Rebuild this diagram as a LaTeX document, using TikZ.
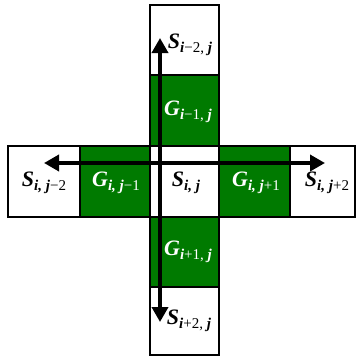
\documentclass[tikz,border=0pt]{standalone}
\usepackage{fontspec}
\setmainfont{Liberation Serif}
\usetikzlibrary{arrows.meta}
\definecolor{ggreen}{RGB}{0,122,0}
\newcommand\lbl[3]{{\bfseries\itshape #1}\raisebox{-0.45ex}{\fontsize{15}{15}\selectfont\bfseries\itshape #2\textup{\mdseries #3}}}
\begin{document}
\begin{tikzpicture}[x=1pt,y=-1pt,
  cell/.style={draw=black,line width=1.6pt,minimum width=70pt,minimum height=71pt,inner sep=0pt,anchor=center},
  gcell/.style={cell,fill=ggreen},
  frame/.style={draw=black,line width=2.6pt},
  stxt/.style={font=\fontsize{22}{22}\selectfont,text=black,inner sep=0pt},
  gtxt/.style={font=\fontsize{22}{22}\selectfont,text=white,inner sep=0pt},
  arr/.style={line width=3.6pt,{Triangle[length=15pt,width=16pt]}-{Triangle[length=15pt,width=16pt]}}]
\useasboundingbox (0,0) rectangle (358,356);
% row cells
\node[cell,minimum width=72pt] (sl) at (44,181.5) {};
\node[gcell,minimum width=70pt] (gl) at (115,181.5) {};
\node[cell,minimum width=69pt] (sc) at (184.5,181.5) {};
\node[gcell,minimum width=71pt] (gr) at (254.5,181.5) {};
\node[cell,minimum width=65pt] (sr) at (322.5,181.5) {};
% column cells
\node[cell,minimum width=69pt,minimum height=70pt] (st) at (184.5,40) {};
\node[gcell,minimum width=69pt,minimum height=71pt] (gt) at (184.5,110.5) {};
\node[gcell,minimum width=69pt,minimum height=70pt] (gb) at (184.5,252) {};
\node[cell,minimum width=69pt,minimum height=68pt] (sb) at (184.5,321) {};
% outer frames
\node[frame,minimum width=347pt,minimum height=71pt,inner sep=0pt] (row) at (181.5,181.5) {};
\node[frame,minimum width=69pt,minimum height=350pt,inner sep=0pt] (col) at (184.5,180) {};
% arrows
\coordinate (atop) at (160,38);
\coordinate (abot) at (160,322);
\coordinate (aleft) at (44,163);
\coordinate (aright) at (325,163);
\draw[arr] (abot) -- (atop);
\draw[arr] (aleft) -- (aright);
% labels
\node[stxt] (tsl) at (44,183) {\lbl{S}{i, j}{−2}};
\node[gtxt] (tgl) at (116,183) {\lbl{G}{i, j}{−1}};
\node[stxt] (tsc) at (186,183) {\lbl{S}{i, j}{}};
\node[gtxt] (tgr) at (256,183) {\lbl{G}{i, j}{+1}};
\node[stxt] (tsr) at (327,183) {\lbl{S}{i, j}{+2}};
\node[gtxt] (tgt) at (188,112) {\lbl{G}{i}{−1, \bfseries\itshape j}};
\node[gtxt] (tgb) at (188,252) {\lbl{G}{i}{+1, \bfseries\itshape j}};
\node[stxt] (tst) at (190,45) {\lbl{S}{i}{−2, \bfseries\itshape j}};
\node[stxt] (tsb) at (189,321) {\lbl{S}{i}{+2, \bfseries\itshape j}};
\end{tikzpicture}
\end{document}
